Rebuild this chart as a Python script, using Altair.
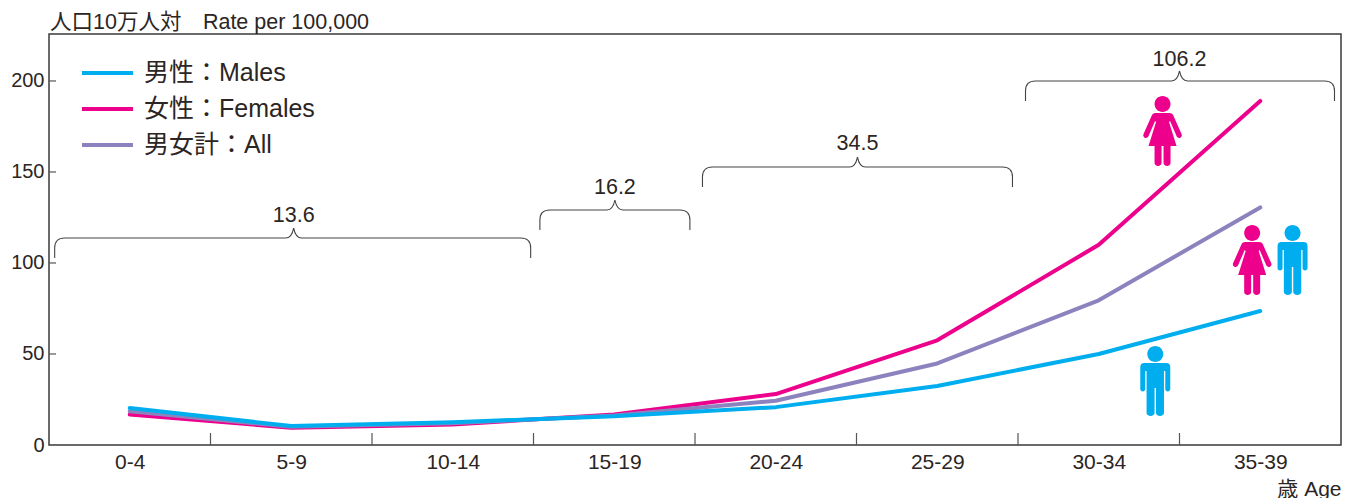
import json
import altair as alt
import pandas as pd

# ---- data -------------------------------------------------------------
age_groups = ["0-4", "5-9", "10-14", "15-19", "20-24", "25-29", "30-34", "35-39"]
males = [20.3, 10.4, 12.5, 15.8, 20.8, 32.4, 50.0, 73.6]
females = [16.7, 9.5, 11.3, 16.8, 28.0, 57.5, 110.0, 189.0]
both = [18.5, 10.0, 12.0, 16.2, 24.3, 44.8, 79.5, 130.5]
series_names = ["男性：Males", "女性：Females", "男女計：All"]
series_colors = ["#00AEEF", "#EC008C", "#8C82BE"]

brace_labels = ["13.6", "16.2", "34.5", "106.2"]
brace_centres = [1.515, 3.504, 5.006, 7.0]
brace_levels = [113.7, 129.1, 152.7, 200.0]
brace_half_left = [239, 75, 155, 154]
brace_half_right = [237, 75, 155, 155]
brace_label_levels = [126.0, 141.0, 165.5, 211.5]

woman_x = [6.895, 7.45]
woman_y = [172.5, 101.6]
man_x = [6.85, 7.7]
man_y = [35.2, 101.6]

FONT = "'Liberation Sans', 'Noto Sans CJK JP', sans-serif"
INK = "#2b2523"
FRAME = "#3a3a3a"

# ---- tables ------------------------------------------------------------
rows = []
for name, vals in [(series_names[1], females), (series_names[2], both), (series_names[0], males)]:
    for i, v in enumerate(vals):
        rows.append({"pos": i + 0.5, "rate": v, "series": name})
lines_df = pd.DataFrame(rows)

x_scale = alt.Scale(domain=[0, 8], nice=False, zero=False)
y_scale = alt.Scale(domain=[0, 225.8], nice=False, zero=True)
X = alt.X("pos:Q", scale=x_scale)
Y = alt.Y("rate:Q", scale=y_scale)

label_expr = json.dumps(age_groups) + "[floor(datum.value)]"

lines = alt.Chart(lines_df).mark_line(strokeWidth=4, strokeCap="round", strokeJoin="round").encode(
    x=alt.X(
        "pos:Q", scale=x_scale, title="歳 Age",
        axis=alt.Axis(
            values=[i + 0.5 for i in range(8)], labelExpr=label_expr, grid=False, domain=False,
            ticks=False, labelFont=FONT, labelFontSize=21, labelColor=INK, labelPadding=6,
            titleFont=FONT, titleFontSize=21, titleFontWeight="normal", titleColor=INK,
            titleAnchor="end", titleAlign="right", titleBaseline="alphabetic",
            titleX=1292, titleY=50,
        ),
    ),
    y=alt.Y(
        "rate:Q", scale=y_scale, title=None,
        axis=alt.Axis(
            values=[0, 50, 100, 150, 200], grid=False, domain=False, ticks=False,
            labelFont=FONT, labelFontSize=20, labelColor=INK, labelPadding=5,
        ),
    ),
    color=alt.Color(
        "series:N",
        scale=alt.Scale(domain=series_names, range=series_colors),
        legend=alt.Legend(
            title=None, orient="none", legendX=33, legendY=21,
            symbolType="M-1.09 0H1.09", symbolSize=2190, symbolStrokeWidth=4,
            labelFont=FONT, labelFontSize=25, labelColor=INK, labelOffset=11,
            rowPadding=0, clipHeight=36, labelLimit=400,
        ),
    ),
)

x_ticks = alt.Chart(pd.DataFrame({"pos": list(range(1, 8))})).mark_rule(
    color="#555555", strokeWidth=1.2
).encode(x=X, y=alt.value(399), y2=alt.value(411))

y_ticks = alt.Chart(pd.DataFrame({"rate": [50, 100, 150, 200]})).mark_rule(
    color="#555555", strokeWidth=1.2
).encode(y=Y, x=alt.value(0), x2=alt.value(7))


def brace_path(left, right):
    return (
        f"M{-left} 20V10Q{-left} 0 {-left + 10} 0H-8Q-2 0 0 -10Q2 0 8 0"
        f"H{right - 10}Q{right} 0 {right} 10V20"
    )


HEAD = "M-8 -27A8 8 0 1 0 8 -27A8 8 0 1 0 -8 -27Z"
MAN = HEAD + (
    "M-11 -18H11Q15 -18 15 -14V8A2.5 2.5 0 0 1 10 8V-10H8.7V32A4 3 0 0 1 0.7 32V7H-0.7V32"
    "A4 3 0 0 1 -8.7 32V-10H-10V8A2.5 2.5 0 0 1 -15 8V-14Q-15 -18 -11 -18Z"
)
WOMAN = HEAD + (
    "M-7 -18H7Q10 -18 11 -15L19 3A2.7 2.7 0 0 1 14.2 5.5L7.5 -10L6.5 -9L14 15H8V32"
    "A3.5 3 0 0 1 1 32V15H-1V32A3.5 3 0 0 1 -8 32V15H-14L-6.5 -9L-7.5 -10L-14.2 5.5"
    "A2.7 2.7 0 0 1 -19 3L-11 -15Q-10 -18 -7 -18Z"
)

braces = []
for c, lvl, hl, hr in zip(brace_centres, brace_levels, brace_half_left, brace_half_right):
    braces.append(
        alt.Chart(pd.DataFrame({"pos": [c], "rate": [lvl]})).mark_point(
            shape=brace_path(hl, hr), size=4, filled=False, stroke="#444444",
            strokeWidth=1.1, opacity=1,
        ).encode(x=X, y=Y)
    )

brace_text = alt.Chart(pd.DataFrame({
    "pos": brace_centres, "rate": brace_label_levels, "label": brace_labels,
})).mark_text(font=FONT, fontSize=21.5, color=INK).encode(x=X, y=Y, text="label:N")

women = alt.Chart(pd.DataFrame({"pos": woman_x, "rate": woman_y})).mark_point(
    shape=WOMAN, size=4, filled=True, fill=series_colors[1], opacity=1, strokeWidth=0
).encode(x=X, y=Y)
men = alt.Chart(pd.DataFrame({"pos": man_x, "rate": man_y})).mark_point(
    shape=MAN, size=4, filled=True, fill=series_colors[0], opacity=1, strokeWidth=0
).encode(x=X, y=Y)

chart = alt.layer(x_ticks, y_ticks, *braces, brace_text, women, men, lines).properties(
    width=1292,
    height=411,
    padding={"left": 41, "top": 26, "right": 1, "bottom": 53},
    autosize=alt.AutoSizeParams(type="none"),
    title=alt.TitleParams(
        "人口10万人対　Rate per 100,000", anchor="start", frame="group", font=FONT,
        fontSize=21.5, fontWeight="normal", color=INK, offset=1, dx=1,
    ),
).configure_view(stroke=FRAME, strokeWidth=1.5)

chart.save("out.html", embed_options={"renderer": "svg", "actions": False})
